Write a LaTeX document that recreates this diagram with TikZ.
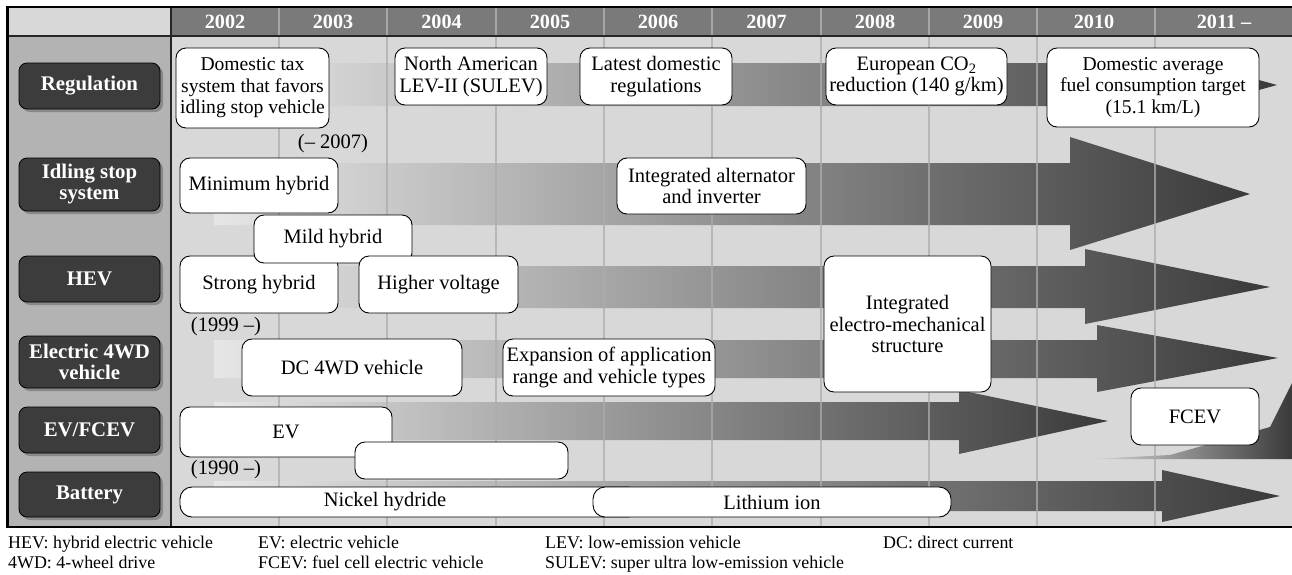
\documentclass[tikz,border=0pt]{standalone}
\usepackage{fontspec}
\setmainfont{Liberation Serif}
\usetikzlibrary{shadows}
\definecolor{hdr}{HTML}{7A7A7A}
\definecolor{bodybg}{HTML}{D8D8D8}
\definecolor{leftcol}{HTML}{B3B3B3}
\definecolor{btn}{HTML}{3C3C3C}
\definecolor{btnshadow}{HTML}{888888}
\definecolor{bandL}{HTML}{E6E6E6}
\definecolor{bandM}{HTML}{ACACAC}
\definecolor{bandR}{HTML}{3A3A3A}
\definecolor{gridc}{HTML}{ACACAC}
\definecolor{hgrid}{HTML}{A6A6A6}
\newcommand\myboxfont{\fontsize{20.5}{21.4}\selectfont}
\newcommand\mysmallboxfont{\fontsize{19.6}{21.4}\selectfont}
\newcommand\mylabfont{\fontsize{20.8}{21}\selectfont\bfseries}
\newcommand\myyearfont{\fontsize{20.2}{21}\selectfont\bfseries}
\newcommand\myfootfont{\fontsize{17.9}{20}\selectfont}
\tikzset{
  wbox/.style={draw=black, line width=0.9pt, fill=white, rounded corners=10pt,
    align=center, inner sep=0pt, font=\myboxfont},
  lab/.style={draw=black, line width=0.8pt, fill=btn, rounded corners=8pt,
    text=white, align=center, inner sep=0pt, font=\mylabfont, minimum width=141pt,
    drop shadow={shadow xshift=3pt, shadow yshift=-3pt, fill=btnshadow, opacity=1}},
  band/.style={left color=bandL, middle color=bandM, right color=bandR},
  yr/.style={text=white, font=\myyearfont, inner sep=0pt},
  note/.style={font=\myboxfont, inner sep=0pt},
  foot/.style={anchor=base west, font=\myfootfont, inner sep=0pt},
  gridline/.style={draw=gridc, line width=1.4pt, opacity=0.75},
  hgridline/.style={draw=hgrid, line width=1.4pt},
}
\begin{document}
\begin{tikzpicture}[x=1pt,y=-1pt]
\useasboundingbox (0,0) rectangle (1292,574);
\fill[white] (0,0) rectangle (1292,574);
% backgrounds
\fill[bodybg] (171,36) rectangle (1292,527);
\fill[leftcol] (7,36) rectangle (171,527);
\fill[bodybg] (7,7) rectangle (171,36);
\fill[hdr] (171,7) rectangle (1292,36);
% header grid lines
\foreach \gx in {279,387,496,604,712,821,929,1037,1155}
  \draw[hgridline] (\gx,8) -- (\gx,35);
% bands
\path[band] (214,63) -- (1150,63) -- (1150,50) -- (1277,85) -- (1150,120) -- (1150,106) -- (214,106) -- cycle;
\path[band] (214,163) -- (1070,163) -- (1070,137) -- (1250,194) -- (1070,250) -- (1070,225) -- (214,225) -- cycle;
\path[band] (214,266) -- (1085,266) -- (1085,249) -- (1270,287) -- (1085,324) -- (1085,308) -- (214,308) -- cycle;
\path[band] (214,340) -- (1097,340) -- (1097,325) -- (1278,358) -- (1097,392) -- (1097,378) -- (214,378) -- cycle;
\path[band] (214,402) -- (959,402) -- (959,390) -- (1108,421) -- (959,454) -- (959,440) -- (214,440) -- cycle;
\path[band] (214,481) -- (1162,481) -- (1162,470) -- (1280,496) -- (1162,522) -- (1162,511) -- (214,511) -- cycle;
\path[left color=bodybg, right color=bandR] (1090,459) -- (1170,455) -- (1270,427) -- (1292,383) -- (1292,459) -- cycle;
% body grid lines
\foreach \gx in {279,387,496,604,712,821,929,1037,1155}
  \draw[gridline] (\gx,37) -- (\gx,526);
% frame
\draw[line width=2pt, black!85] (7,36) -- (1292,36);
\draw[line width=2pt, black!85] (171,7) -- (171,527);
\draw[line width=2.6pt] (6,7) -- (1292,7);
\draw[line width=2.6pt] (7.5,6) -- (7.5,528);
\draw[line width=2.6pt] (6,527) -- (1292,527);
% years
\node[yr] (y02) at (225,22) {2002};
\node[yr] (y03) at (333,22) {2003};
\node[yr] (y04) at (441.5,22) {2004};
\node[yr] (y05) at (550,22) {2005};
\node[yr] (y06) at (658,22) {2006};
\node[yr] (y07) at (766.5,22) {2007};
\node[yr] (y08) at (875,22) {2008};
\node[yr] (y09) at (983,22) {2009};
\node[yr] (y10) at (1094,22) {2010};
\node[yr] (y11) at (1224,22) {2011 --};
% row labels
\node[lab, minimum height=46pt] (lreg) at (89.5,86) {Regulation};
\node[lab, minimum height=53pt] (lidl) at (89.5,184.5) {Idling stop\\system};
\node[lab, minimum height=46pt] (lhev) at (89.5,279) {HEV};
\node[lab, minimum height=52pt] (l4wd) at (89.5,362) {Electric 4WD\\vehicle};
\node[lab, minimum height=46pt] (lev) at (89.5,430) {EV/FCEV};
\node[lab, minimum height=45pt] (lbat) at (89.5,494.5) {Battery};
% regulation boxes
\node[wbox, font=\mysmallboxfont, minimum width=153pt, minimum height=80pt] (b1) at (252.5,88) {Domestic tax\\system that favors\\idling stop vehicle};
\node[wbox, minimum width=152pt, minimum height=57pt] (b2) at (471,76.5) {North American\\LEV-II (SULEV)};
\node[wbox, minimum width=152pt, minimum height=57pt] (b3) at (656,76.5) {Latest domestic\\regulations};
\node[wbox, minimum width=181pt, minimum height=57pt] (b4) at (916.5,76.5) {European CO\textsubscript{2}\\reduction (140 g/km)};
\node[wbox, font=\mysmallboxfont, minimum width=212pt, minimum height=79pt] (b5) at (1153,87.5) {Domestic average\\fuel consumption target\\(15.1 km/L)};
\node[note] (n1) at (333,144) {(-- 2007)};
% idling stop boxes
\node[wbox, minimum width=158pt, minimum height=55pt] (b6) at (259,185.5) {Minimum hybrid};
\node[wbox, minimum width=189pt, minimum height=56pt] (b7) at (711.5,186) {Integrated alternator\\and inverter};
% HEV boxes
\node[wbox, minimum width=158pt, minimum height=57pt] (b9) at (259,284.5) {Strong hybrid};
\node[wbox, minimum width=158pt, minimum height=48pt] (b8) at (333,239) {Mild hybrid};
\node[wbox, minimum width=159pt, minimum height=57pt] (b10) at (438.5,284.5) {Higher voltage};
\node[wbox, minimum width=167pt, minimum height=136pt] (b11) at (907.5,324) {Integrated\\electro-mechanical\\structure};
\node[note] (n2) at (226,327) {(1999 --)};
% electric 4WD boxes
\node[wbox, minimum width=220pt, minimum height=57pt] (b12) at (352,367.5) {DC 4WD vehicle};
\node[wbox, minimum width=212pt, minimum height=57pt] (b13) at (609,367.5) {Expansion of application\\range and vehicle types};
% EV/FCEV boxes
\node[wbox, minimum width=212pt, minimum height=50pt] (b14) at (286,432) {EV};
\node[wbox, minimum width=213pt, minimum height=37pt] (b15) at (461.5,460.5) {};
\node[wbox, minimum width=128pt, minimum height=57pt] (b16) at (1195,416.5) {FCEV};
\node[note] (n3) at (226,470) {(1990 --)};
% battery boxes
\node[wbox, rounded corners=12pt, minimum width=460pt, minimum height=30pt] (b17) at (410,502) {};
\node[note] (t17) at (385,502) {Nickel hydride};
\node[wbox, rounded corners=12pt, minimum width=358pt, minimum height=30pt] (b18) at (772,502) {Lithium ion};
% footer
\node[foot] (f1) at (8,548) {HEV: hybrid electric vehicle};
\node[foot] (f2) at (8,568) {4WD: 4-wheel drive};
\node[foot] (f3) at (258,548) {EV: electric vehicle};
\node[foot] (f4) at (258,568) {FCEV: fuel cell electric vehicle};
\node[foot] (f5) at (545,548) {LEV: low-emission vehicle};
\node[foot] (f6) at (545,568) {SULEV: super ultra low-emission vehicle};
\node[foot] (f7) at (883,548) {DC: direct current};
\end{tikzpicture}
\end{document}
